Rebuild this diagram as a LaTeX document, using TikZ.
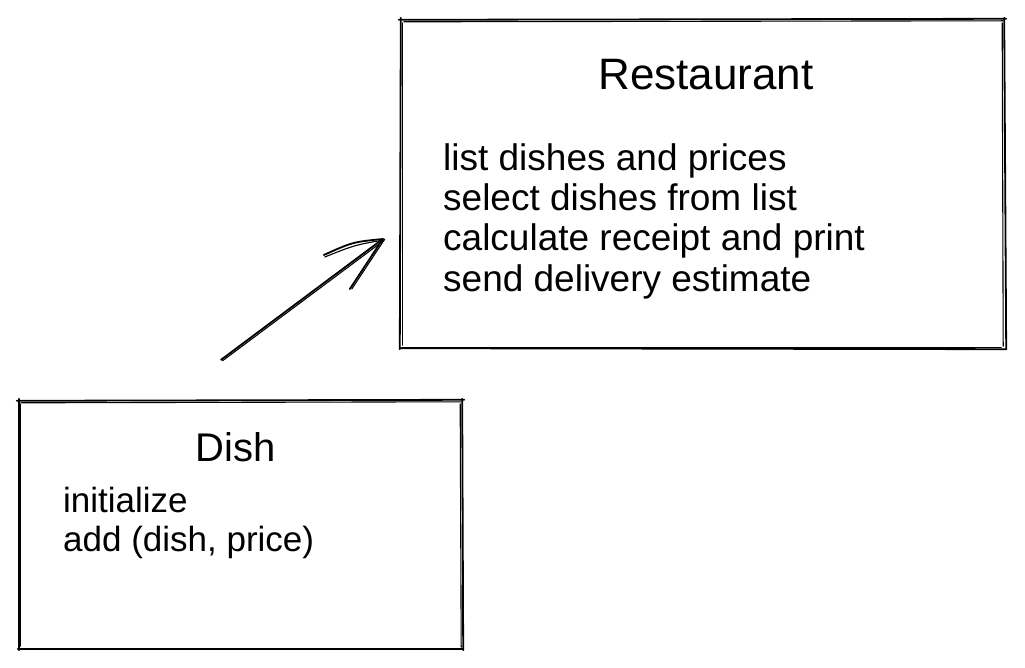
\documentclass[tikz,border=0pt]{standalone}
\usepackage{fontspec}
\setmainfont{Liberation Sans}
\begin{document}
\begin{tikzpicture}[x=1pt,y=-1pt,
  sk/.style={line width=1.8pt, line cap=round, line join=round, black},
  skthin/.style={line width=1.1pt, line cap=round, line join=round, black},
  boxnode/.style={draw=none, inner sep=0pt},
  ttl/.style={anchor=base, inner sep=0pt},
  bodytxt/.style={anchor=base west, inner sep=0pt}]
\useasboundingbox (0,0) rectangle (1025,668);
% boxes (invisible nodes, sketched borders)
\node[boxnode, minimum width=603pt, minimum height=328pt] (rest) at (702.5,184) {};
\node[boxnode, minimum width=443pt, minimum height=248pt] (dish) at (240.5,525) {};
% Restaurant border, double sketch strokes
\draw[sk] ([shift={(-2,0)}]rest.north west) -- ([shift={(2,-1)}]rest.north east);
\draw[skthin] ([shift={(3,2)}]rest.north west) -- ([shift={(-1,1)}]rest.north east);
\draw[sk] ([shift={(0,-2)}]rest.north east) -- ([shift={(2,1)}]rest.south east);
\draw[skthin] ([shift={(-2,3)}]rest.north east) -- ([shift={(-1,-2)}]rest.south east);
\draw[sk] ([shift={(2,1)}]rest.south east) -- ([shift={(-1,0)}]rest.south west);
\draw[skthin] ([shift={(-3,-1)}]rest.south east) -- ([shift={(1,-1)}]rest.south west);
\draw[sk] ([shift={(-1,1)}]rest.south west) -- ([shift={(0,-2)}]rest.north west);
\draw[skthin] ([shift={(2,-3)}]rest.south west) -- ([shift={(2,3)}]rest.north west);
% Dish border
\draw[sk] ([shift={(-2,0)}]dish.north west) -- ([shift={(2,-1)}]dish.north east);
\draw[skthin] ([shift={(2,2)}]dish.north west) -- ([shift={(-1,1)}]dish.north east);
\draw[sk] ([shift={(0,-2)}]dish.north east) -- ([shift={(1,1)}]dish.south east);
\draw[skthin] ([shift={(-2,3)}]dish.north east) -- ([shift={(-1,-2)}]dish.south east);
\draw[sk] ([shift={(1,0)}]dish.south east) -- ([shift={(-1,0)}]dish.south west);
\draw[skthin] ([shift={(-3,-1)}]dish.south east) -- ([shift={(1,-1)}]dish.south west);
\draw[sk] ([shift={(0,1)}]dish.south west) -- ([shift={(0,-2)}]dish.north west);
\draw[skthin] ([shift={(2,-3)}]dish.south west) -- ([shift={(2,3)}]dish.north west);
% texts
\node[ttl, font=\fontsize{44}{50}\selectfont] (rtitle) at (706,90) {Restaurant};
\node[bodytxt, font=\fontsize{37}{40}\selectfont] (r1) at (443,171) {list dishes and prices};
\node[bodytxt, font=\fontsize{37}{40}\selectfont] (r2) at (443,211) {select dishes from list};
\node[bodytxt, font=\fontsize{37}{40}\selectfont] (r3) at (443,251) {calculate receipt and print};
\node[bodytxt, font=\fontsize{37}{40}\selectfont] (r4) at (443,291) {send delivery estimate};
\node[ttl, font=\fontsize{40}{46}\selectfont] (dtitle) at (236,461) {Dish};
\node[bodytxt, font=\fontsize{35}{40}\selectfont] (d1) at (63,512) {initialize};
\node[bodytxt, font=\fontsize{35}{40}\selectfont] (d2) at (63,551) {add (dish, price)};
% arrow
\coordinate (tail) at ([shift={(-19.5,-41)}]dish.north);
\coordinate (tip) at ([shift={(-18,55)}]rest.west);
\draw[sk] (tail) -- (tip);
\draw[skthin] ([shift={(1.5,1)}]tail) -- ([shift={(1,1.5)}]tip);
\draw[sk] (tip) .. controls ([shift={(-30,3)}]tip) .. ([shift={(-59,16)}]tip);
\draw[skthin] ([shift={(1,1)}]tip) .. controls ([shift={(-28,6)}]tip) .. ([shift={(-58,18)}]tip);
\draw[sk] (tip) -- ([shift={(-33,50)}]tip);
\draw[skthin] ([shift={(2,0)}]tip) -- ([shift={(-31,50)}]tip);
\end{tikzpicture}
\end{document}
